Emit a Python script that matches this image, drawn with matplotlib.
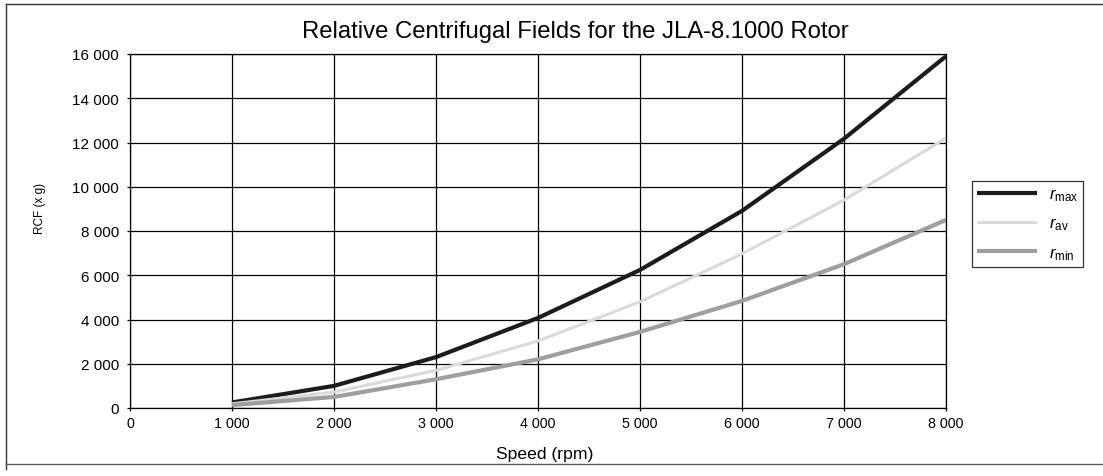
import matplotlib
matplotlib.use("Agg")
import matplotlib.pyplot as plt
from matplotlib.lines import Line2D
from matplotlib.ticker import FuncFormatter

plt.rcParams['font.family'] = ['Liberation Sans', 'DejaVu Sans']
plt.rcParams['mathtext.fontset'] = 'custom'
plt.rcParams['mathtext.rm'] = 'Liberation Sans'
plt.rcParams['mathtext.it'] = 'Liberation Sans:italic'

speed = [1000, 2000, 3000, 4000, 5000, 6000, 7000, 8000]
r_max = [250, 1000, 2300, 4070, 6240, 8910, 12170, 15900]
r_av = [190, 720, 1700, 3030, 4800, 6970, 9400, 12200]
r_min = [130, 500, 1300, 2200, 3440, 4840, 6500, 8500]

labels = [r'$\mathit{r}_{\mathrm{max}}$', r'$\mathit{r}_{\mathrm{av}}$', r'$\mathit{r}_{\mathrm{min}}$']
colors = ['#1c1c1c', '#dadada', '#9e9e9e']
widths = [3.0, 2.2, 3.0]

fig = plt.figure(figsize=(11.03, 4.77), dpi=100)
ax = fig.add_axes([130/1103, 1-409/477, (946-130)/1103, (409-55)/477])

for ys, lab, c, w in zip([r_max, r_av, r_min], labels, colors, widths):
    ax.plot(speed, ys, color=c, lw=w, label=lab, solid_capstyle='butt')

ax.set_xlim(0, 8000)
ax.set_ylim(0, 16000)
ax.set_xticks(range(0, 8001, 1000))
ax.set_yticks(range(0, 16001, 2000))
fmt = FuncFormatter(lambda v, p: f"{int(v):,}".replace(",", " "))
ax.xaxis.set_major_formatter(fmt)
ax.yaxis.set_major_formatter(fmt)
ax.grid(True, color='black', lw=0.9)
ax.set_axisbelow(True)
for s in ax.spines.values():
    s.set_color('black')
    s.set_linewidth(0.9)
ax.tick_params(axis='both', length=2, width=0.9, colors='black')
ax.tick_params(axis='x', pad=3.5, labelsize=10.3)
ax.tick_params(axis='y', pad=6, labelsize=11)

fig.text(545/1103, 1-455/477, 'Speed (rpm)', fontsize=12.6, ha='center', va='center')
fig.text(40/1103, 1-208/477, 'RCF (x g)', rotation=90, fontsize=8.5,
         ha='center', va='center')
fig.text(575/1103, 1-32/477, 'Relative Centrifugal Fields for the JLA-8.1000 Rotor',
         fontsize=17.2, ha='center', va='center')

leg = ax.legend(loc='center left', bbox_to_anchor=(972/1103, 1-225/477),
                bbox_transform=fig.transFigure, frameon=True, fancybox=False,
                fontsize=12, handlelength=3.6, borderpad=0.3, labelspacing=0.75,
                handletextpad=0.7, borderaxespad=0)
leg.get_frame().set_edgecolor('black')
leg.get_frame().set_linewidth(0.9)

# outer frame (top, left, bottom)
fig.add_artist(Line2D([6/1103, 1], [1-5/477, 1-5/477], transform=fig.transFigure, color='#333333', lw=1))
fig.add_artist(Line2D([6/1103, 6/1103], [1-5/477, 1-470/477], transform=fig.transFigure, color='#333333', lw=1))
fig.add_artist(Line2D([6/1103, 1], [1-465/477, 1-465/477], transform=fig.transFigure, color='#555555', lw=1))

fig.savefig('out.png', dpi=100)
